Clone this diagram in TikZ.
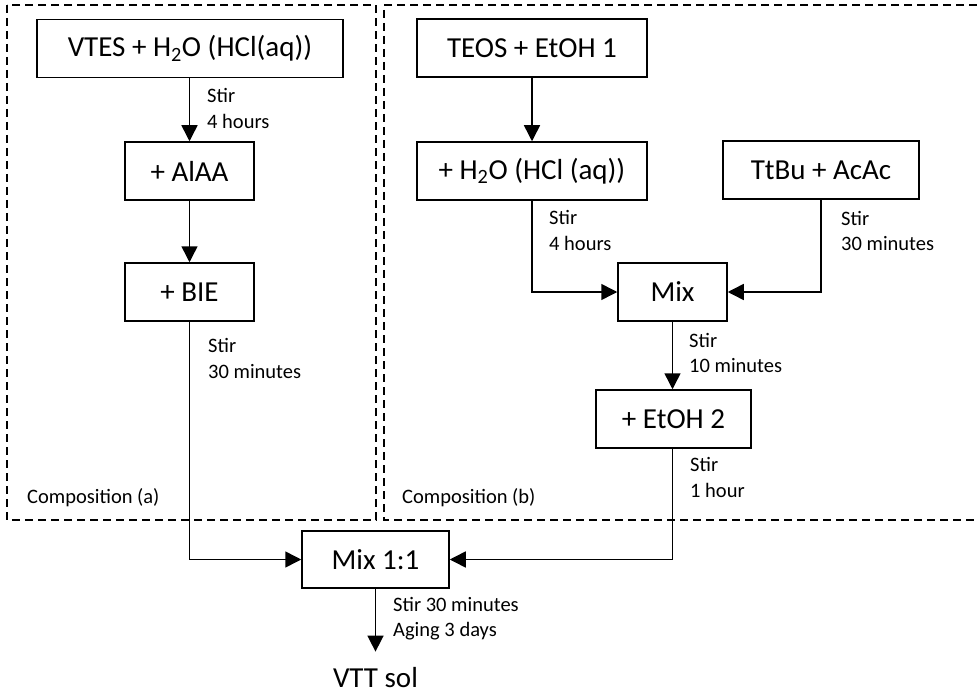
\documentclass[tikz,border=0pt]{standalone}
\usepackage{fontspec}
\setmainfont{Carlito}
\usetikzlibrary{arrows.meta}

\begin{document}
\begin{tikzpicture}[x=1pt,y=-1pt,
  bigfont/.style={font=\fontsize{29}{34}\selectfont},
  smallfont/.style={font=\fontsize{20.5}{25.5}\selectfont},
  stepbox/.style={draw, line width=1.5pt, bigfont, inner sep=0pt, minimum height=58pt},
  note/.style={smallfont, align=left, inner sep=0pt, anchor=west},
  arr/.style={line width=1.5pt, -{Triangle[length=16pt,width=16pt]}},
  groupframe/.style={line width=1.3pt, dash pattern=on 8pt off 5pt}
]
\useasboundingbox (0,0) rectangle (977,695);

% group frames
\draw[groupframe] (7,5) rectangle (376,520);
\draw[groupframe] (990,5) -- (384,5) -- (384,520) -- (990,520);
\node[smallfont, anchor=west, inner sep=0pt] (compa) at (27,498) {Composition (a)};
\node[smallfont, anchor=west, inner sep=0pt] (compb) at (402,498) {Composition (b)};

% composition (a)
\node[stepbox, minimum width=306pt] (vtes) at (190,48.5) {VTES + H\textsubscript{2}O (HCl(aq))};
\node[stepbox, minimum width=129pt] (alaa) at (189.5,171) {+ AlAA};
\node[stepbox, minimum width=129pt] (bie)  at (189.5,292) {+ BIE};

% composition (b)
\node[stepbox, minimum width=230pt] (teos) at (532,48) {TEOS + EtOH 1};
\node[stepbox, minimum width=230pt] (hcl)  at (532,171) {+ H\textsubscript{2}O (HCl (aq))};
\node[stepbox, minimum width=196pt] (ttbu) at (821,170) {TtBu + AcAc};
\node[stepbox, minimum width=109pt] (mix)  at (672.5,292) {Mix};
\node[stepbox, minimum width=155pt] (etoh) at (673.5,419) {+ EtOH 2};

% final steps
\node[stepbox, minimum width=147pt, minimum height=57pt] (mixfin) at (375.5,559.5) {Mix 1:1};
\node[bigfont, inner sep=0pt] (vtt) at (375.5,678) {VTT sol};

% connectors
\draw[arr] (vtes.south -| alaa.north) -- (alaa.north);
\draw[arr] (alaa.south) -- (bie.north);
\draw[arr] (teos.south) -- (hcl.north);
\draw[arr] (hcl.south) |- (mix.west);
\draw[arr] (ttbu.south) |- (mix.east);
\draw[arr] (mix.south) -- (mix.south |- etoh.north);
\draw[arr] (bie.south) |- (mixfin.west);
\draw[arr] (etoh.south -| mix.south) |- (mixfin.east);
\draw[arr, shorten >=16pt] (mixfin.south) -- (vtt.north);

% process notes
\node[note] (n1) at (207,108.5) {Stir\\4 hours};
\node[note] (n2) at (208,358.5) {Stir\\30 minutes};
\node[note] (n3) at (549,230.5) {Stir\\4 hours};
\node[note] (n4) at (841,231) {Stir\\30 minutes};
\node[note] (n5) at (689,353) {Stir\\10 minutes};
\node[note] (n6) at (690,477.5) {Stir\\1 hour};
\node[note] (n7) at (393,618.5) {Stir 30 minutes\\Aging 3 days};
\end{tikzpicture}
\end{document}
